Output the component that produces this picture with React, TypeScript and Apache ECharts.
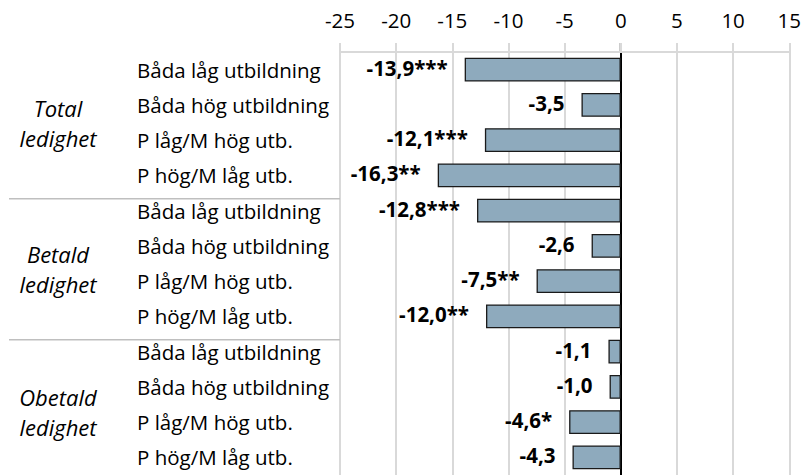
import React, { useEffect, useRef } from "react";
import * as echarts from "echarts";

const categories = [
  "Båda låg utbildning",
  "Båda hög utbildning",
  "P låg/M hög utb.",
  "P hög/M låg utb.",
  "Båda låg utbildning",
  "Båda hög utbildning",
  "P låg/M hög utb.",
  "P hög/M låg utb.",
  "Båda låg utbildning",
  "Båda hög utbildning",
  "P låg/M hög utb.",
  "P hög/M låg utb.",
];
const values = [-13.9, -3.5, -12.1, -16.3, -12.8, -2.6, -7.5, -12.0, -1.1, -1.0, -4.6, -4.3];
const stars = ["***", "", "***", "**", "***", "", "**", "**", "", "", "*", ""];
const groups = [
  { lines: ["Total", "ledighet"], from: 0, to: 3 },
  { lines: ["Betald", "ledighet"], from: 4, to: 7 },
  { lines: ["Obetald", "ledighet"], from: 8, to: 11 },
];
const xMin = -25;
const xMax = 15;
const xStep = 5;

const FONT = "'Open Sans', sans-serif";

export default function App() {
  const ref = useRef<HTMLDivElement>(null);
  useEffect(() => {
    document.body.style.margin = "0";
    const chart = echarts.init(ref.current!, null, { renderer: "svg" });
    chart.setOption({
      animation: false,
      grid: { left: 340, right: 13, top: 52, height: 426, containLabel: false },
      xAxis: {
        type: "value",
        position: "top",
        min: xMin,
        max: xMax,
        interval: xStep,
        axisLine: { show: true, onZero: false, lineStyle: { color: "#d9d9d9", width: 2 } },
        axisTick: { show: true, length: 9, lineStyle: { color: "#d9d9d9", width: 2 } },
        splitLine: { show: true, lineStyle: { color: "#d9d9d9", width: 2 } },
        axisLabel: { color: "#000", fontSize: 20.5, fontFamily: FONT, margin: 22 },
      },
      yAxis: [
        {
          type: "category",
          data: categories,
          inverse: true,
          axisLine: { show: false, onZero: false },
          axisTick: { show: false },
          axisLabel: {
            color: "#000",
            fontSize: 20.5,
            fontFamily: FONT,
            align: "left",
            margin: 203,
          },
        },
        {
          type: "category",
          data: categories,
          inverse: true,
          position: "left",
          axisLine: { show: true, onZero: true, lineStyle: { color: "#000", width: 2 } },
          axisTick: { show: false },
          axisLabel: { show: false },
        },
      ],
      series: [
        {
          type: "bar",
          yAxisIndex: 0,
          data: values,
          barCategoryGap: "32%",
          itemStyle: { color: "#8eaabd", borderColor: "#1a1a1a", borderWidth: 1.3 },
          label: {
            show: true,
            position: "left",
            distance: 17,
            color: "#000",
            fontWeight: "bold",
            fontSize: 20.5,
            fontFamily: FONT,
            offset: [0, -2],
            formatter: (p: any) => p.value.toFixed(1).replace(".", ",") + stars[p.dataIndex],
          },
        },
      ],
    });

    const c0 = chart.convertToPixel({ yAxisIndex: 0 }, 0) as number;
    const c1 = chart.convertToPixel({ yAxisIndex: 0 }, 1) as number;
    const band = c1 - c0;
    const zeroX = chart.convertToPixel({ xAxisIndex: 0 }, 0) as number;
    const leftX = chart.convertToPixel({ xAxisIndex: 0 }, xMin) as number;
    const top = c0 - band / 2;
    const offsets = [0, 5, 7];
    const elements: any[] = [];
    groups.forEach((g, gi) => {
      const a = chart.convertToPixel({ yAxisIndex: 0 }, g.from) as number;
      const b = chart.convertToPixel({ yAxisIndex: 0 }, g.to) as number;
      const mid = (a + b) / 2 + offsets[gi];
      g.lines.forEach((t, li) => {
        elements.push({
          type: "text",
          x: 58,
          y: mid + (li - 0.5) * 30,
          style: {
            text: t,
            fill: "#000",
            font: `italic 22px ${FONT}`,
            align: "center",
            verticalAlign: "middle",
          },
        });
      });
      if (gi > 0) {
        const y = a - band * 0.34;
        elements.push({
          type: "line",
          shape: { x1: 9, y1: y, x2: leftX, y2: y },
          style: { stroke: "#bfbfbf", lineWidth: 1.5 },
        });
      }
    });
    elements.push({
      type: "line",
      shape: { x1: zeroX, y1: top - 9, x2: zeroX, y2: top },
      style: { stroke: "#000", lineWidth: 2 },
    });
    chart.setOption({ graphic: elements });

    return () => chart.dispose();
  }, []);
  return <div ref={ref} style={{ width: 804, height: 475 }} />;
}
